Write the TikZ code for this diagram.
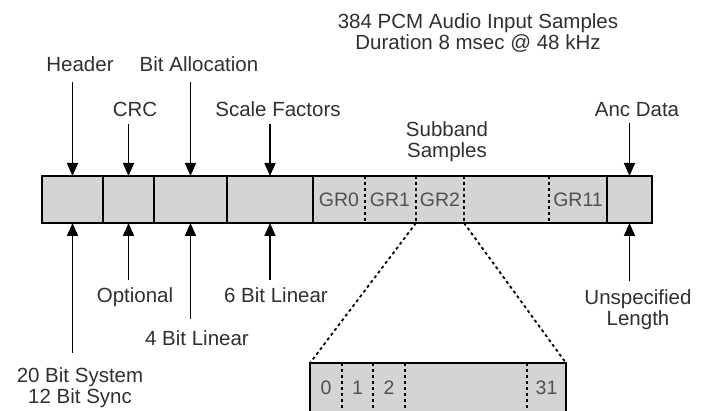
\documentclass[tikz,border=0pt]{standalone}
\usepackage{fontspec}
\setmainfont{Liberation Sans}
\usetikzlibrary{arrows.meta, positioning}
\definecolor{cellgray}{RGB}{212,212,214}
\definecolor{txtgray}{RGB}{48,48,48}
\definecolor{grgray}{RGB}{80,80,80}

\begin{document}
\begin{tikzpicture}[
  x=1pt, y=-1pt,
  every node/.style={font=\fontsize{20.5}{21}\selectfont, text=txtgray},
  cell/.style={draw, line width=1.8pt, fill=cellgray, minimum height=47pt, inner sep=0pt, outer sep=0pt},
  arr/.style={-{Triangle[length=13pt, width=11pt]}, line width=1.7pt},
  sep/.style={line width=1.8pt, dash pattern=on 3pt off 3pt},
  lbltop/.style={anchor=south, inner sep=0pt, align=center},
  lblbot/.style={anchor=north, inner sep=0pt, align=center},
  grlbl/.style={text=grgray, font=\fontsize{19.5}{20}\selectfont}
]
\useasboundingbox (0,0) rectangle (709,411);
\clip (0,0) rectangle (709,411);

% frame
\node[cell, minimum width=61pt] (hdr) at (72.5,199.5) {};
\node[cell, minimum width=51pt, right=0pt of hdr] (crc) {};
\node[cell, minimum width=73pt, right=0pt of crc] (alloc) {};
\node[cell, minimum width=86pt, right=0pt of alloc] (scf) {};
\node[cell, minimum width=294pt, right=0pt of scf] (sub) {};
\node[cell, minimum width=45pt, right=0pt of sub] (anc) {};

\foreach \dx in {52,103,151,236}
  \draw[sep] ([xshift=\dx pt]sub.north west) -- ([xshift=\dx pt]sub.south west);
\node[grlbl] (gr0) at ([xshift=26pt]sub.west) {GR0};
\node[grlbl] (gr1) at ([xshift=77pt]sub.west) {GR1};
\node[grlbl] (gr2) at ([xshift=127pt]sub.west) {GR2};
\node[grlbl] (gr11) at ([xshift=265pt]sub.west) {GR11};

% one subband group
\node[cell, minimum width=256pt, minimum height=62pt] (bits) at (438,394) {};
\foreach \dx in {32,63,95,217}
  \draw[sep] ([xshift=\dx pt]bits.north west) -- ([xshift=\dx pt]bits.south west);
\node[grlbl] (b0) at ([shift={(16,25)}]bits.north west) {0};
\node[grlbl] (b1) at ([shift={(47.5,25)}]bits.north west) {1};
\node[grlbl] (b2) at ([shift={(79,25)}]bits.north west) {2};
\node[grlbl] (b31) at ([shift={(236.5,25)}]bits.north west) {31};

\coordinate (gr2l) at ([xshift=103pt]sub.south west);
\coordinate (gr2r) at ([xshift=151pt]sub.south west);
\draw[sep] (gr2l) -- (bits.north west);
\draw[sep] (gr2r) -- (bits.north east);

% labels
\node[lblbot] (title) at (478,13) {384 PCM Audio Input Samples\\Duration 8 msec @ 48 kHz};
\node[lbltop] (lhdr) at (80,72) {Header};
\node[lbltop] (lalloc) at (199,72) {Bit Allocation};
\node[lbltop] (lcrc) at (135,117) {CRC};
\node[lbltop] (lscf) at (278,117) {Scale Factors};
\node[lbltop] (lsub) at (447,161.5) {Subband\\Samples};
\node[lbltop] (lanc) at (637,117) {Anc Data};

\node[lblbot] (lsync) at (80,367.7) {20 Bit System\\12 Bit Sync};
\node[lblbot] (lopt) at (135,287.7) {Optional};
\node[lblbot] (llin4) at (197,330.7) {4 Bit Linear};
\node[lblbot] (llin6) at (276,287.7) {6 Bit Linear};
\node[lblbot] (lunsp) at (638,289.7) {Unspecified\\Length};

% arrows
\draw[arr, shorten <=10pt] (lhdr.south -| hdr.north) -- (hdr.north);
\draw[arr, shorten <=10pt] (lalloc.south -| alloc.north) -- (alloc.north);
\draw[arr, shorten <=7pt] (lcrc.south -| crc.north) -- (crc.north);
\draw[arr, shorten <=7pt] (lscf.south -| scf.north) -- (scf.north);
\draw[arr, shorten <=6pt] (lanc.south -| anc.north) -- (anc.north);

\draw[arr, shorten <=15pt] (lsync.north -| hdr.south) -- (hdr.south);
\draw[arr, shorten <=8pt] (lopt.north -| crc.south) -- (crc.south);
\draw[arr, shorten <=12pt] (llin4.north -| alloc.south) -- (alloc.south);
\draw[arr, shorten <=8pt] (llin6.north -| scf.south) -- (scf.south);
\draw[arr, shorten <=9pt] (lunsp.north -| anc.south) -- (anc.south);
\end{tikzpicture}
\end{document}
